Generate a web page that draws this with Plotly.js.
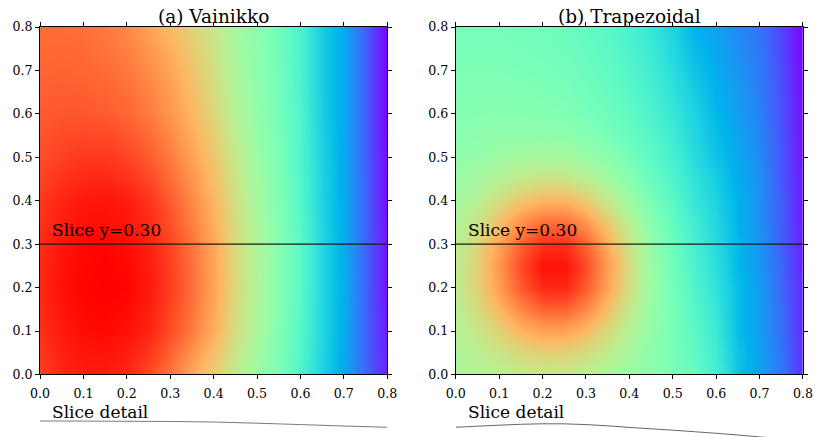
<!DOCTYPE html>
<html><head><meta charset="utf-8">
<script src="https://cdn.plot.ly/plotly-3.0.1.min.js"></script>
<style>html,body{margin:0;padding:0;background:#fff}#chart{width:817px;height:437px}</style>
</head><body><div id="chart"></div>
<script>
// ---------- data ----------
const gridX = [0,0.05,0.1,0.15,0.2,0.25,0.3,0.35,0.4,0.45,0.5,0.55,0.6,0.65,0.7,0.75,0.8];
const gridYLeft = [0,0.1,0.2,0.3,0.4,0.5,0.6,0.7,0.8];
const gridYRight = [0,0.05,0.1,0.15,0.2,0.25,0.3,0.35,0.4,0.45,0.5,0.55,0.6,0.65,0.7,0.75,0.8];

// (a) Vainikko, rows = gridYLeft, cols = gridX (colour-normalised level)
const zVainikko = [
  [0.92,0.95,0.965,0.965,0.95,0.91,0.85,0.77,0.70,0.625,0.555,0.49,0.41,0.31,0.23,0.13,0.04],
  [0.94,0.97,0.985,0.99,0.98,0.955,0.905,0.84,0.76,0.665,0.585,0.50,0.42,0.32,0.235,0.125,0.03],
  [0.95,0.98,0.995,1.0,0.995,0.97,0.925,0.86,0.775,0.68,0.595,0.51,0.43,0.32,0.24,0.125,0.02],
  [0.945,0.975,0.99,0.995,0.985,0.96,0.915,0.85,0.77,0.675,0.59,0.51,0.43,0.32,0.235,0.125,0.02],
  [0.93,0.955,0.97,0.975,0.965,0.935,0.885,0.82,0.745,0.66,0.575,0.50,0.42,0.31,0.235,0.125,0.01],
  [0.90,0.92,0.93,0.93,0.915,0.885,0.84,0.78,0.715,0.635,0.555,0.49,0.41,0.31,0.23,0.12,0.01],
  [0.885,0.89,0.89,0.885,0.87,0.84,0.80,0.745,0.68,0.605,0.535,0.48,0.41,0.30,0.23,0.12,0.0],
  [0.87,0.875,0.87,0.86,0.845,0.815,0.775,0.72,0.66,0.585,0.525,0.475,0.40,0.30,0.23,0.12,0.0],
  [0.86,0.86,0.855,0.84,0.82,0.78,0.74,0.69,0.64,0.57,0.52,0.47,0.40,0.30,0.23,0.12,0.0]
];

// (b) Trapezoidal, rows = gridYRight, cols = gridX
const zTrapezoidal = [
  [0.586,0.598,0.61,0.627,0.634,0.631,0.615,0.589,0.556,0.524,0.491,0.45,0.39,0.28,0.22,0.15,0.06],
  [0.592,0.615,0.643,0.676,0.694,0.692,0.666,0.623,0.574,0.528,0.487,0.44,0.38,0.28,0.22,0.15,0.06],
  [0.602,0.641,0.691,0.746,0.78,0.779,0.74,0.674,0.602,0.538,0.485,0.43,0.37,0.27,0.21,0.14,0.05],
  [0.614,0.67,0.744,0.824,0.875,0.876,0.821,0.73,0.633,0.549,0.484,0.42,0.36,0.27,0.21,0.14,0.05],
  [0.622,0.692,0.786,0.885,0.95,0.952,0.886,0.775,0.657,0.557,0.481,0.41,0.35,0.27,0.21,0.13,0.05],
  [0.622,0.697,0.799,0.906,0.976,0.979,0.907,0.788,0.662,0.554,0.474,0.40,0.34,0.26,0.20,0.13,0.04],
  [0.612,0.682,0.777,0.875,0.94,0.942,0.874,0.763,0.643,0.54,0.462,0.39,0.33,0.26,0.20,0.12,0.04],
  [0.594,0.65,0.726,0.804,0.855,0.856,0.799,0.705,0.606,0.516,0.446,0.38,0.32,0.25,0.19,0.12,0.03],
  [0.572,0.611,0.665,0.716,0.75,0.749,0.706,0.636,0.561,0.489,0.429,0.36,0.31,0.25,0.19,0.12,0.03],
  [0.55,0.573,0.605,0.634,0.652,0.65,0.619,0.57,0.516,0.46,0.409,0.35,0.30,0.24,0.19,0.11,0.03],
  [0.532,0.544,0.561,0.573,0.58,0.576,0.554,0.522,0.481,0.438,0.391,0.33,0.28,0.235,0.18,0.11,0.02],
  [0.519,0.524,0.532,0.535,0.535,0.53,0.513,0.488,0.457,0.419,0.376,0.32,0.27,0.225,0.175,0.105,0.02],
  [0.51,0.512,0.515,0.513,0.51,0.502,0.488,0.467,0.439,0.405,0.361,0.31,0.26,0.215,0.17,0.10,0.02],
  [0.502,0.502,0.503,0.499,0.495,0.487,0.472,0.453,0.426,0.393,0.348,0.295,0.25,0.21,0.165,0.10,0.01],
  [0.494,0.494,0.494,0.489,0.485,0.476,0.462,0.443,0.415,0.381,0.335,0.28,0.24,0.20,0.16,0.095,0.01],
  [0.487,0.487,0.487,0.482,0.477,0.468,0.453,0.434,0.405,0.371,0.323,0.265,0.23,0.19,0.155,0.09,0.00],
  [0.48,0.48,0.48,0.475,0.47,0.46,0.445,0.425,0.395,0.36,0.31,0.25,0.22,0.185,0.15,0.085,0.00]
];

const sliceY = 0.30;
const sliceXLeft = [0,0.1,0.2,0.3,0.4,0.5,0.6,0.7,0.8];
const sliceLeft = [0.432,0.430,0.424,0.419,0.405,0.373,0.335,0.297,0.262];
const sliceXRight = [0,0.05,0.1,0.15,0.2,0.25,0.3,0.35,0.4,0.45,0.5,0.55,0.6,0.65,0.7,0.75,0.8];
const sliceRight = [0.262,0.292,0.319,0.343,0.357,0.355,0.335,0.303,0.259,0.222,0.184,0.143,0.100,0.054,0.003,-0.054,-0.110];

const panelTitles = ['(a) Vainikko', '(b) Trapezoidal'];
const tickVals = [0,0.1,0.2,0.3,0.4,0.5,0.6,0.7,0.8];
const tickText = ['0.0','0.1','0.2','0.3','0.4','0.5','0.6','0.7','0.8'];

// ---------- style ----------
const rainbow = [
  [0,'rgb(128,0,255)'],[0.0625,'rgb(96,50,254)'],[0.125,'rgb(64,98,250)'],[0.1875,'rgb(32,142,244)'],
  [0.25,'rgb(0,180,236)'],[0.3125,'rgb(32,212,225)'],[0.375,'rgb(64,236,212)'],[0.4375,'rgb(96,250,197)'],
  [0.5,'rgb(128,255,180)'],[0.5625,'rgb(159,250,162)'],[0.625,'rgb(191,236,142)'],[0.6875,'rgb(223,212,120)'],
  [0.75,'rgb(255,180,98)'],[0.8125,'rgb(255,142,74)'],[0.875,'rgb(255,98,50)'],[0.9375,'rgb(255,50,25)'],[1,'rgb(255,0,0)']
];
const SERIF = 'DejaVu Serif, serif';
const W = 817, H = 437, ML = 40, MR = 13.5, MT = 27.3, MB = 0;
const PW = W - ML - MR, PH = H - MT - MB;
const dom1 = [0, 347.5 / PW];
const dom2 = [(456 - ML) / PW, 1];
const heatDomY = [(H - 374.5) / PH, 1];
const sliceDomY = [0, (H - 400) / PH];

function heatAxis(extra) {
  return Object.assign({
    range: [0, 0.8], tickvals: tickVals, ticktext: tickText,
    ticks: 'outside', ticklen: 4, tickwidth: 1, tickcolor: '#000',
    showline: true, linecolor: '#000', linewidth: 1, mirror: 'ticks',
    showgrid: false, zeroline: false, fixedrange: true,
    tickfont: {family: SERIF, size: 12.6, color: '#000'}
  }, extra);
}
function hiddenAxis(extra) {
  return Object.assign({visible: false, showgrid: false, zeroline: false, fixedrange: true}, extra);
}

const traces = [
  {type: 'heatmap', x: gridX, y: gridYLeft, z: zVainikko, colorscale: rainbow, zmin: 0, zmax: 1,
   zsmooth: 'best', showscale: false, xaxis: 'x', yaxis: 'y', hoverinfo: 'skip'},
  {type: 'heatmap', x: gridX, y: gridYRight, z: zTrapezoidal, colorscale: rainbow, zmin: 0, zmax: 1,
   zsmooth: 'best', showscale: false, xaxis: 'x2', yaxis: 'y2', hoverinfo: 'skip'},
  {type: 'scatter', mode: 'lines', x: sliceXLeft, y: sliceLeft, xaxis: 'x3', yaxis: 'y3',
   line: {color: '#7a7a7a', width: 1, shape: 'spline'}, hoverinfo: 'skip'},
  {type: 'scatter', mode: 'lines', x: sliceXRight, y: sliceRight, xaxis: 'x4', yaxis: 'y4',
   line: {color: '#555555', width: 0.9, shape: 'spline'}, hoverinfo: 'skip'}
];

const annotations = [];
[[dom1, 'x', 'y'], [dom2, 'x2', 'y2']].forEach(([d, xa, ya], i) => {
  annotations.push({text: panelTitles[i], xref: 'paper', yref: 'paper', x: (d[0] + d[1]) / 2, y: 1,
    xanchor: 'center', yanchor: 'bottom', yshift: -2, showarrow: false,
    font: {family: SERIF, size: 18.5, color: '#000'}});
  annotations.push({text: 'Slice y=' + sliceY.toFixed(2), xref: xa, yref: ya, x: 0.023, y: sliceY,
    xanchor: 'left', yanchor: 'bottom', yshift: 2, showarrow: false,
    font: {family: SERIF, size: 17, color: '#000'}});
  annotations.push({text: 'Slice detail', xref: 'paper', yref: 'paper', x: d[0] + 10.5 / PW, y: (H - 424.3) / PH,
    xanchor: 'left', yanchor: 'bottom', showarrow: false,
    font: {family: SERIF, size: 17, color: '#000'}});
});

const shapes = ['', '2'].map(s => ({type: 'line', xref: 'x' + s + ' domain', yref: 'y' + s,
  x0: 0, x1: 1, y0: sliceY, y1: sliceY, line: {color: '#1a1a1a', width: 1.2}}));

const layout = {
  width: W, height: H, margin: {l: ML, r: MR, t: MT, b: MB, pad: 0},
  paper_bgcolor: '#fff', plot_bgcolor: '#fff', showlegend: false,
  xaxis: heatAxis({domain: dom1, anchor: 'y', ticklabelstandoff: 3}),
  yaxis: heatAxis({domain: heatDomY, anchor: 'x'}),
  xaxis2: heatAxis({domain: dom2, anchor: 'y2', ticklabelstandoff: 3}),
  yaxis2: heatAxis({domain: heatDomY, anchor: 'x2'}),
  xaxis3: hiddenAxis({domain: dom1, anchor: 'y3', range: [0, 0.8]}),
  yaxis3: hiddenAxis({domain: sliceDomY, anchor: 'x3', range: [0, 1]}),
  xaxis4: hiddenAxis({domain: dom2, anchor: 'y4', range: [0, 0.8]}),
  yaxis4: hiddenAxis({domain: sliceDomY, anchor: 'x4', range: [0, 1]}),
  annotations: annotations, shapes: shapes
};

Plotly.newPlot('chart', traces, layout, {displayModeBar: false, staticPlot: true});
</script></body></html>
